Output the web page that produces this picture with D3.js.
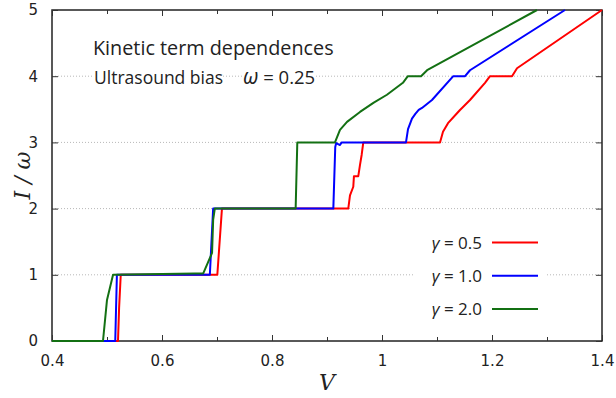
<!DOCTYPE html>
<html><head><meta charset="utf-8">
<script src="https://cdn.jsdelivr.net/npm/d3@7"></script>
<style>body{margin:0;background:#fff}svg{display:block}</style>
</head><body>
<svg id="c" width="616" height="398"></svg>
<script>
const xTicks = [0.4, 0.6, 0.8, 1.0, 1.2, 1.4];
const xTickLabels = ["0.4", "0.6", "0.8", "1", "1.2", "1.4"];
const xMinorTicks = [0.5, 0.7, 0.9, 1.1, 1.3];
const yTicks = [0, 1, 2, 3, 4, 5];
const gridY = [1, 2, 3, 4];
const seriesNames = ["γ = 0.5", "γ = 1.0", "γ = 2.0"];
const seriesColors = ["#ff0000", "#0000ff", "#137013"];

const redV = [0.400,0.520,0.522,0.525,0.7006,0.709,0.9387,0.9418,0.9478,0.949,0.9569,0.960,0.963,0.966,1.1055,1.1109,1.120,1.1364,1.1418,1.1455,1.160,1.1873,1.1964,1.2364,1.2455,1.400];
const redI = [0,0,0.5,1.0,1.0,2.0,2.0,2.2,2.33,2.49,2.49,2.66,2.81,3.0,3.0,3.16,3.29,3.44,3.49,3.52,3.64,3.9,4.0,4.0,4.12,5.0];

const blueV = [0.400,0.515,0.518,0.687,0.693,0.9115,0.915,0.9167,0.9236,0.9267,1.0436,1.0473,1.0545,1.0606,1.0667,1.0727,1.0909,1.1296,1.151,1.160,1.3327];
const blueI = [0,0,1.0,1.0,2.0,2.0,2.93,2.99,2.96,3.0,3.0,3.2,3.36,3.43,3.49,3.52,3.64,4.0,4.0,4.09,5.0];

const greenV = [0.400,0.4927,0.500,0.511,0.660,0.675,0.691,0.693,0.696,0.843,0.846,0.9145,0.9236,0.9364,0.960,0.985,1.009,1.038,1.047,1.071,1.082,1.2818];
const greenI = [0,0,0.62,1.0,1.02,1.02,1.33,1.83,2.0,2.0,3.0,3.0,3.19,3.31,3.46,3.6,3.72,3.9,4.0,4.0,4.09,5.0];

const seriesV = [redV, blueV, greenV];
const seriesI = [redI, blueI, greenI];

const svg = d3.select("#c");
const L = 52, R = 602, T = 10, B = 341;
const x = d3.scaleLinear().domain([0.4, 1.4]).range([L, R]);
const y = d3.scaleLinear().domain([0, 5]).range([B, T]);
const tickFont = "'DejaVu Sans', sans-serif";
const textFont = "'Open Sans', sans-serif";

// grid
svg.append("g").selectAll("line").data(gridY).join("line")
  .attr("x1", L).attr("x2", R)
  .attr("y1", d => y(d)).attr("y2", d => y(d))
  .attr("stroke", "#b8b8b8").attr("stroke-width", 1).attr("stroke-dasharray", "1,2");

// text annotations with white background
function label(txtParts, xPos, yBase, size) {
  const g = svg.append("g");
  const t = g.append("text").attr("x", xPos).attr("y", yBase)
    .attr("font-family", textFont).attr("font-size", size).attr("fill", "#222");
  txtParts.forEach(p => {
    t.append("tspan").text(p.t).attr("font-style", p.i ? "italic" : "normal")
      .attr("font-size", p.s || null);
  });
  const bb = t.node().getBBox();
  g.insert("rect", "text").attr("x", bb.x).attr("y", bb.y + 3).attr("width", bb.width).attr("height", bb.height - 6).attr("fill", "#fff");
  return t;
}
label([{t: "Kinetic term dependences"}], 93, 55, 19.8);
label([{t: "Ultrasound bias"}], 94, 84, 17.5);
label([{t: "ω", i: true, s: 21}, {t: " = 0.25"}], 243, 84, 18.5);

// frame
svg.append("rect").attr("x", L).attr("y", T).attr("width", R - L).attr("height", B - T)
  .attr("fill", "none").attr("stroke", "#222").attr("stroke-width", 1.5);

// axes (ticks inward)
const xb = svg.append("g").attr("transform", `translate(0,${B})`)
  .call(d3.axisBottom(x).tickValues(xTicks).tickSizeInner(-6).tickSizeOuter(0).tickPadding(14)
    .tickFormat((d, i) => xTickLabels[i]));
const xbm = svg.append("g").attr("transform", `translate(0,${B})`)
  .call(d3.axisBottom(x).tickValues(xMinorTicks).tickSizeInner(-4).tickSizeOuter(0).tickFormat(""));
const xt = svg.append("g").attr("transform", `translate(0,${T})`)
  .call(d3.axisTop(x).tickValues(xTicks).tickSizeInner(-6).tickSizeOuter(0).tickFormat(""));
const xtm = svg.append("g").attr("transform", `translate(0,${T})`)
  .call(d3.axisTop(x).tickValues(xMinorTicks).tickSizeInner(-4).tickSizeOuter(0).tickFormat(""));
const yl = svg.append("g").attr("transform", `translate(${L},0)`)
  .call(d3.axisLeft(y).tickValues(yTicks).tickSizeInner(-6).tickSizeOuter(0).tickPadding(14).tickFormat(d3.format("d")));
const yr = svg.append("g").attr("transform", `translate(${R},0)`)
  .call(d3.axisRight(y).tickValues(yTicks).tickSizeInner(-6).tickSizeOuter(0).tickFormat(""));
[xb, xbm, xt, xtm, yl, yr].forEach(g => {
  g.select(".domain").remove();
  g.selectAll(".tick line").attr("stroke", "#333").attr("stroke-width", 1);
  g.selectAll("text").attr("font-family", tickFont).attr("font-size", 15).attr("fill", "#222");
});

// curves (on top of frame)
const line = d3.line().x(d => x(d[0])).y(d => y(d[1]));
seriesV.forEach((vs, k) => {
  const pts = vs.map((v, i) => [v, seriesI[k][i]]);
  svg.append("path").datum(pts).attr("d", line)
    .attr("fill", "none").attr("stroke", seriesColors[k]).attr("stroke-width", 2)
    .attr("stroke-linejoin", "round");
});

// legend
const lg = svg.append("g");
lg.append("rect").attr("x", 415).attr("y", 226).attr("width", 132).attr("height", 98).attr("fill", "#fff");
seriesNames.forEach((n, k) => {
  const yy = 242.5 + k * 33.3;
  const t = lg.append("text").attr("x", 482).attr("y", yy + 6).attr("text-anchor", "end")
    .attr("font-family", textFont).attr("font-size", 17).attr("fill", "#222");
  t.append("tspan").text("γ").attr("font-style", "italic");
  t.append("tspan").text(n.slice(1));
  lg.append("line").attr("x1", 492).attr("x2", 538).attr("y1", yy).attr("y2", yy)
    .attr("stroke", seriesColors[k]).attr("stroke-width", 2);
});

// axis titles
svg.append("text").attr("x", x(0.9)).attr("y", 390).attr("text-anchor", "middle")
  .attr("font-family", "'DejaVu Serif', serif").attr("font-style", "italic").attr("font-size", 22)
  .attr("fill", "#222").text("V");
svg.append("text").attr("transform", `translate(30,${y(2.5)}) rotate(-90)`).attr("text-anchor", "middle")
  .attr("font-family", "'DejaVu Serif', serif").attr("font-style", "italic").attr("font-size", 22)
  .attr("fill", "#222").text("I / ω");
</script>
</body></html>
